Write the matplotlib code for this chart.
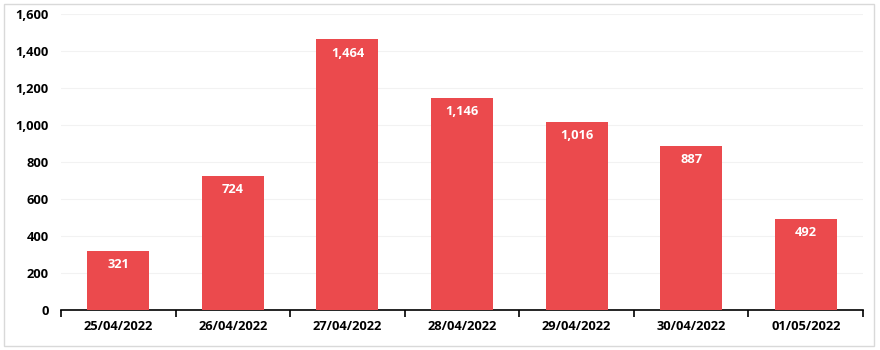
import matplotlib
matplotlib.use("Agg")
import matplotlib.pyplot as plt
from matplotlib.patches import Rectangle
from matplotlib.ticker import FuncFormatter, MultipleLocator

categories = ["25/04/2022", "26/04/2022", "27/04/2022", "28/04/2022",
              "29/04/2022", "30/04/2022", "01/05/2022"]
values = [321, 724, 1464, 1146, 1016, 887, 492]

plt.rcParams['font.family'] = ['Open Sans', 'DejaVu Sans']
plt.rcParams['font.weight'] = 'bold'

fig = plt.figure(figsize=(8.8, 3.5), dpi=100)
fig.patches.append(Rectangle((4/880, 4/350), 870/880, 342/350, transform=fig.transFigure,
                             fill=False, edgecolor='#d9d9d9', linewidth=1))
ax = fig.add_axes([61/880, 40/350, 802/880, 296/350])

x = list(range(len(categories)))
bars = ax.bar(x, values, width=0.54, color='#EB4A4D', zorder=3)
for xi, v in zip(x, values):
    ax.text(xi, v - 40, f"{v:,}", ha='center', va='top', color='white',
            fontsize=9.3, fontweight='bold', zorder=4)

ax.set_xlim(-0.5, len(categories) - 0.5)
ax.set_ylim(0, 1600)
ax.yaxis.set_major_locator(MultipleLocator(200))
ax.yaxis.set_major_formatter(FuncFormatter(lambda v, p: f"{int(v):,}"))
ax.grid(axis='y', color='#f2f2f2', linewidth=0.8, zorder=0)
for s in ['top', 'right', 'left']:
    ax.spines[s].set_visible(False)
ax.spines['bottom'].set_color('black')
ax.spines['bottom'].set_linewidth(1.2)

ax.set_xticks(x)
ax.set_xticklabels(categories, fontsize=9.3, fontweight='bold')
ax.tick_params(axis='x', which='major', length=0, pad=7)
ax.set_xticks([i - 0.5 for i in range(len(categories) + 1)], minor=True)
ax.tick_params(axis='x', which='minor', length=5, width=1.2, color='black')
ax.tick_params(axis='y', length=0, pad=9, labelsize=9.3)
for lab in ax.get_yticklabels():
    lab.set_fontweight('bold')

fig.savefig("out.png", dpi=100)
